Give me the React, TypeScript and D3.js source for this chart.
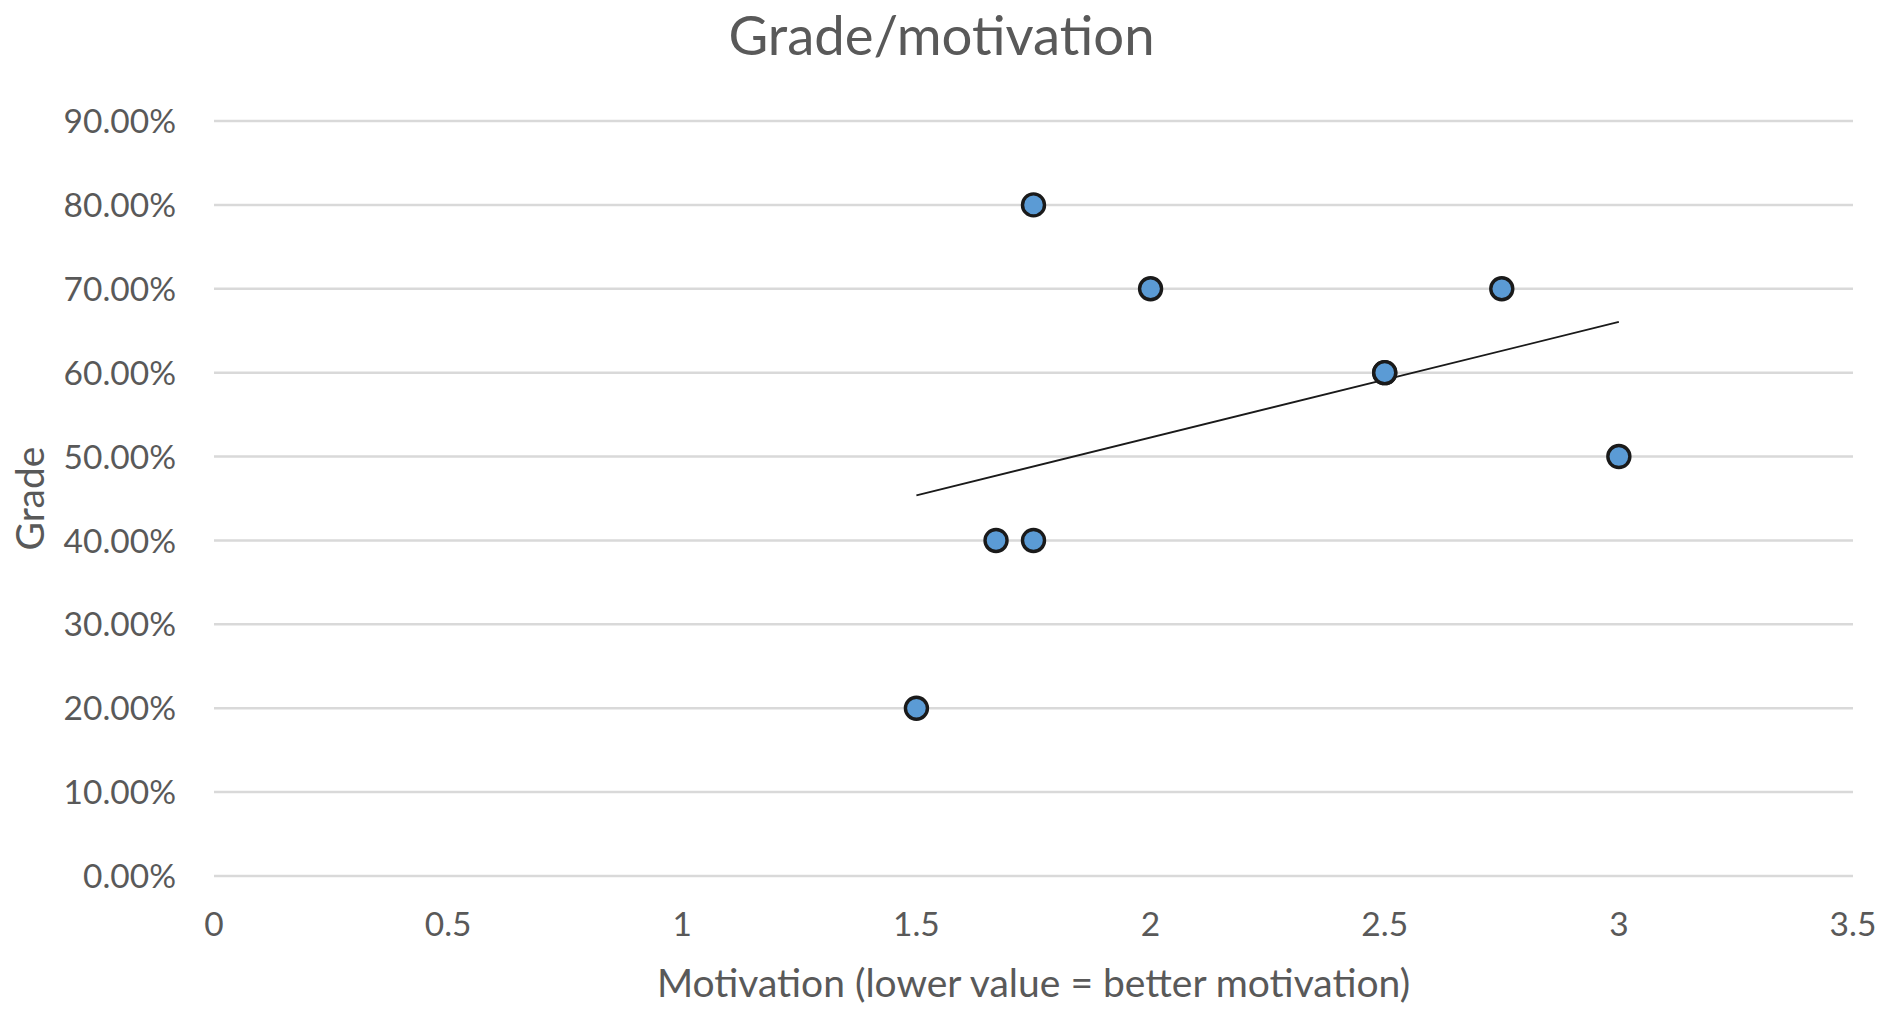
import React, { useEffect, useRef } from "react";
import * as d3 from "d3";

// Motivation score (lower = better) and grade for each student
const motivation = [1.75, 2.0, 2.75, 2.5, 2.5, 3.0, 1.67, 1.75, 1.5];
const grade = [0.8, 0.7, 0.7, 0.6, 0.6, 0.5, 0.4, 0.4, 0.2];

const xTicks = [0, 0.5, 1, 1.5, 2, 2.5, 3, 3.5];
const yTicks = [0, 0.1, 0.2, 0.3, 0.4, 0.5, 0.6, 0.7, 0.8, 0.9];

const chartTitle = "Grade/motivation";
const xTitle = "Motivation (lower value = better motivation)";
const yTitle = "Grade";

const W = 1883;
const H = 1010;
const FONT = "Lato, 'Open Sans', sans-serif";
const TEXT = "#595959";

export default function App() {
  const ref = useRef<SVGSVGElement | null>(null);

  useEffect(() => {
    const svg = d3.select(ref.current);
    svg.selectAll("*").remove();

    const x = d3.scaleLinear().domain([0, 3.5]).range([214, 1853]);
    const y = d3.scaleLinear().domain([0, 0.9]).range([876, 121]);

    // horizontal gridlines
    svg
      .append("g")
      .selectAll("line")
      .data(yTicks)
      .join("line")
      .attr("x1", x(0))
      .attr("x2", x(3.5))
      .attr("y1", (d) => y(d))
      .attr("y2", (d) => y(d))
      .attr("stroke", "#d9d9d9")
      .attr("stroke-width", 2.5);

    // y tick labels
    svg
      .append("g")
      .selectAll("text")
      .data(yTicks)
      .join("text")
      .attr("x", 176)
      .attr("y", (d) => y(d))
      .attr("dy", "0.36em")
      .attr("text-anchor", "end")
      .attr("font-family", FONT)
      .attr("font-size", 33.5)
      .attr("fill", TEXT)
      .text((d) => d3.format(".2%")(d));

    // x tick labels
    svg
      .append("g")
      .selectAll("text")
      .data(xTicks)
      .join("text")
      .attr("x", (d) => x(d))
      .attr("y", 936)
      .attr("text-anchor", "middle")
      .attr("font-family", FONT)
      .attr("font-size", 33.5)
      .attr("fill", TEXT)
      .text((d) => String(d));

    // linear trendline (least squares) across the data's x range
    const mx = d3.mean(motivation) as number;
    const my = d3.mean(grade) as number;
    let sxy = 0;
    let sxx = 0;
    motivation.forEach((v, i) => {
      sxy += (v - mx) * (grade[i] - my);
      sxx += (v - mx) * (v - mx);
    });
    const slope = sxy / sxx;
    const intercept = my - slope * mx;
    const [x0, x1] = d3.extent(motivation) as [number, number];
    svg
      .append("line")
      .attr("x1", x(x0))
      .attr("y1", y(intercept + slope * x0))
      .attr("x2", x(x1))
      .attr("y2", y(intercept + slope * x1))
      .attr("stroke", "#1a1a1a")
      .attr("stroke-width", 1.8);

    // markers
    svg
      .append("g")
      .selectAll("circle")
      .data(motivation.map((m, i) => [m, grade[i]]))
      .join("circle")
      .attr("cx", (d) => x(d[0]))
      .attr("cy", (d) => y(d[1]))
      .attr("r", 11)
      .attr("fill", "#5b9bd5")
      .attr("stroke", "#1a1a1a")
      .attr("stroke-width", 3.4);

    // titles
    svg
      .append("text")
      .attr("x", W / 2)
      .attr("y", 55)
      .attr("text-anchor", "middle")
      .attr("font-family", FONT)
      .attr("font-size", 54.5)
      .attr("fill", TEXT)
      .text(chartTitle);

    svg
      .append("text")
      .attr("x", (x(0) + x(3.5)) / 2)
      .attr("y", 997)
      .attr("text-anchor", "middle")
      .attr("font-family", FONT)
      .attr("font-size", 39)
      .attr("fill", TEXT)
      .text(xTitle);

    svg
      .append("text")
      .attr("transform", `translate(44,${(y(0) + y(0.9)) / 2}) rotate(-90)`)
      .attr("text-anchor", "middle")
      .attr("font-family", FONT)
      .attr("font-size", 39)
      .attr("fill", TEXT)
      .text(yTitle);
  }, []);

  return (
    <svg
      ref={ref}
      width={W}
      height={H}
      style={{ position: "absolute", left: 0, top: 0, background: "#fff" }}
    />
  );
}
